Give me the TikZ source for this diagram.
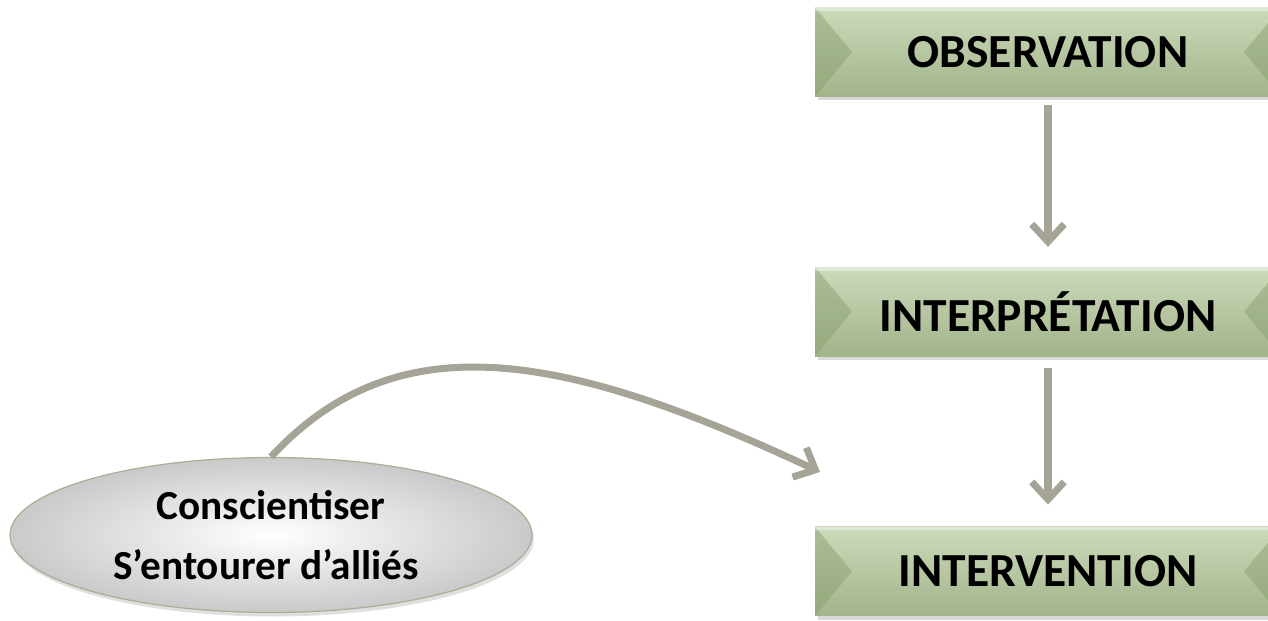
\documentclass[tikz,border=0pt]{standalone}
\usepackage{fontspec}
\setmainfont{Carlito}
\usetikzlibrary{arrows.meta,positioning,shapes.geometric,shadows}

\definecolor{stagetop}{RGB}{204,218,186}
\definecolor{stagebot}{RGB}{162,180,138}
\definecolor{bevelgreen}{RGB}{135,155,110}
\definecolor{linkgray}{RGB}{166,164,150}
\definecolor{rimgray}{RGB}{175,172,150}

\begin{document}
\begin{tikzpicture}[node distance=3.4cm,
	stage/.style={rectangle,draw=none,minimum width=9.32cm,minimum height=1.78cm,
		top color=stagetop,bottom color=stagebot,
		drop shadow={opacity=0.3,shadow xshift=0.05cm,shadow yshift=-0.08cm},
		font=\fontsize{27}{32}\selectfont\bfseries,
		path picture={
			\fill[bevelgreen,opacity=0.45] (path picture bounding box.south west) -- (path picture bounding box.north west) -- ([xshift=0.74cm]path picture bounding box.west) -- cycle;
			\fill[bevelgreen,opacity=0.45] (path picture bounding box.south east) -- (path picture bounding box.north east) -- ([xshift=-0.74cm]path picture bounding box.east) -- cycle;
			\fill[white,opacity=0.4] (path picture bounding box.north west) rectangle ([yshift=-0.07cm]path picture bounding box.north east);
		}},
	aware/.style={ellipse,draw=rimgray,line width=0.7pt,minimum width=10.44cm,minimum height=3.1cm,inner sep=0pt,
		inner color=white,outer color=gray!42,
		drop shadow={opacity=0.25,shadow xshift=0.04cm,shadow yshift=-0.08cm},
		align=center,font=\fontsize{23.5}{34}\selectfont\bfseries},
	link/.style={draw=linkgray,line width=4pt,-{Straight Barb[length=3.5mm,width=6.5mm]}}]

\useasboundingbox (0,0) rectangle (25.36,12.4);

\node[stage] (obs) at (20.96,11.36) {OBSERVATION};
\node[stage] (interp) [below=of obs] {INTERPRÉTATION};
\node[stage] (interv) [below=of interp] {INTERVENTION};

\node[aware] (aware) at (5.42,1.7) {Conscientiser\\S’entourer d’alliés\hspace*{0.2cm}};
\coordinate (join) at (16.4,2.96);

\draw[link,shorten <=0.16cm,shorten >=0.4cm] (obs) -- (interp);
\draw[link,shorten <=0.22cm,shorten >=0.44cm] (interp) -- (interv);
\draw[link] (aware.north) .. controls +(2.5,2.7) and +(-5.2,2.44) .. (join);

\end{tikzpicture}
\end{document}
